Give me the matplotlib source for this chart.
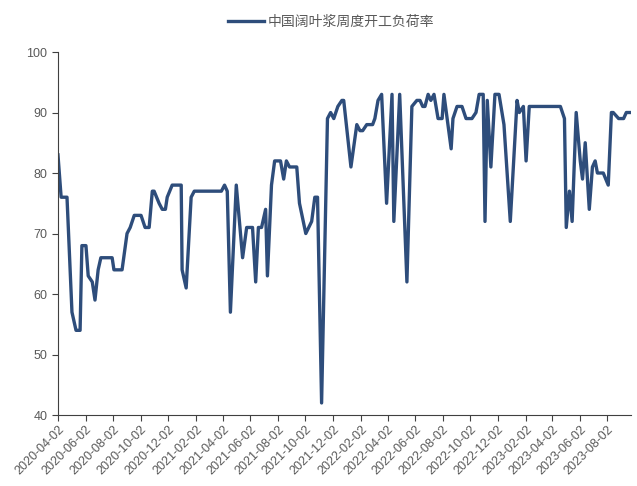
import matplotlib
matplotlib.use("Agg")
import matplotlib.pyplot as plt
import pandas as pd

plt.rcParams['font.family'] = ['Noto Sans CJK SC', 'DejaVu Sans']

dates = [
    "2020-04-02", "2020-04-09", "2020-04-22", "2020-05-03", "2020-05-12", "2020-05-21",
    "2020-05-25", "2020-06-03", "2020-06-08", "2020-06-17", "2020-06-23", "2020-06-30",
    "2020-07-06", "2020-07-31", "2020-08-04", "2020-08-22", "2020-09-02", "2020-09-09",
    "2020-09-18", "2020-10-03", "2020-10-12", "2020-10-21", "2020-10-28", "2020-11-01",
    "2020-11-12", "2020-11-19", "2020-11-26", "2020-11-30", "2020-12-11", "2020-12-31",
    "2021-01-02", "2021-01-11", "2021-01-22", "2021-01-29", "2021-03-30", "2021-04-06",
    "2021-04-12", "2021-04-19", "2021-05-02", "2021-05-16", "2021-05-25", "2021-06-07",
    "2021-06-14", "2021-06-20", "2021-06-27", "2021-07-06", "2021-07-10", "2021-07-19",
    "2021-07-26", "2021-08-08", "2021-08-15", "2021-08-21", "2021-08-28", "2021-09-13",
    "2021-09-19", "2021-10-03", "2021-10-16", "2021-10-23", "2021-10-29", "2021-11-07",
    "2021-11-20", "2021-11-27", "2021-12-04", "2021-12-13", "2021-12-22", "2021-12-26",
    "2022-01-11", "2022-01-24", "2022-01-31", "2022-02-06", "2022-02-15", "2022-02-28",
    "2022-03-05", "2022-03-12", "2022-03-20", "2022-03-31", "2022-04-12", "2022-04-16",
    "2022-04-29", "2022-05-15", "2022-05-26", "2022-06-06", "2022-06-13", "2022-06-19",
    "2022-06-24", "2022-07-01", "2022-07-07", "2022-07-14", "2022-07-23", "2022-08-01",
    "2022-08-05", "2022-08-21", "2022-08-25", "2022-09-03", "2022-09-14", "2022-09-23",
    "2022-10-06", "2022-10-15", "2022-10-22", "2022-10-31", "2022-11-04", "2022-11-09",
    "2022-11-17", "2022-11-26", "2022-12-05", "2022-12-16", "2022-12-30", "2023-01-14",
    "2023-01-19", "2023-01-28", "2023-02-03", "2023-02-10", "2023-04-20", "2023-04-29",
    "2023-05-03", "2023-05-10", "2023-05-16", "2023-05-25", "2023-06-03", "2023-06-08",
    "2023-06-14", "2023-06-23", "2023-06-30", "2023-07-06", "2023-07-11", "2023-07-24",
    "2023-08-04", "2023-08-11", "2023-08-15", "2023-08-27", "2023-09-07", "2023-09-13",
    "2023-09-22",
]
rates = [
    83, 76, 76, 57, 54, 54,
    68, 68, 63, 62, 59, 64,
    66, 66, 64, 64, 70, 71,
    73, 73, 71, 71, 77, 77,
    75, 74, 74, 76, 78, 78,
    64, 61, 76, 77, 77, 78,
    77, 57, 78, 66, 71, 71,
    62, 71, 71, 74, 63, 78,
    82, 82, 79, 82, 81, 81,
    75, 70, 72, 76, 76, 42,
    89, 90, 89, 91, 92, 92,
    81, 88, 87, 87, 88, 88,
    89, 92, 93, 75, 93, 72,
    93, 62, 91, 92, 92, 91,
    91, 93, 92, 93, 89, 89,
    93, 84, 89, 91, 91, 89,
    89, 90, 93, 93, 72, 92,
    81, 93, 93, 88, 72, 92,
    90, 91, 82, 91, 91, 89,
    71, 77, 72, 90, 82, 79,
    85, 74, 81, 82, 80, 80,
    78, 90, 90, 89, 89, 90,
    90,
]
series_label = "中国阔叶浆周度开工负荷率"
tick_labels = [
    "2020-04-02", "2020-06-02", "2020-08-02", "2020-10-02", "2020-12-02",
    "2021-02-02", "2021-04-02", "2021-06-02", "2021-08-02", "2021-10-02",
    "2021-12-02", "2022-02-02", "2022-04-02", "2022-06-02", "2022-08-02",
    "2022-10-02", "2022-12-02", "2023-02-02", "2023-04-02", "2023-06-02",
    "2023-08-02",
]
x_start, x_end = "2020-04-02", "2023-09-24"

x = pd.to_datetime(dates)
fig = plt.figure(figsize=(6.37, 4.86), dpi=100)
ax = fig.add_axes([0.091, 0.146, 0.900, 0.747])
line_color = "#2E4D7B"
ax.plot(x, rates, color=line_color, lw=2.4, solid_joinstyle="round", label=series_label)

ax.set_ylim(40, 100)
ax.set_yticks(range(40, 101, 10))
ax.set_xlim(pd.Timestamp(x_start), pd.Timestamp(x_end))
ax.set_xticks(pd.to_datetime(tick_labels))
ax.set_xticklabels(tick_labels, rotation=45, ha="right", rotation_mode="anchor")
ax.tick_params(axis="both", colors="#404040", labelcolor="#595959", labelsize=9,
               length=4, width=0.8)
ax.tick_params(axis="x", pad=2)
for lbl in ax.get_xticklabels() + ax.get_yticklabels():
    lbl.set_family(["Liberation Sans", "DejaVu Sans"])
for s in ["top", "right"]:
    ax.spines[s].set_visible(False)
ax.spines["left"].set_color("#404040")
ax.spines["bottom"].set_color("#404040")

leg = fig.legend(loc="upper center", bbox_to_anchor=(0.52, 0.995), frameon=False,
                 fontsize=10, handlelength=2.6, handletextpad=0.3)
for t in leg.get_texts():
    t.set_color("#595959")

fig.savefig("out.png", dpi=100)
